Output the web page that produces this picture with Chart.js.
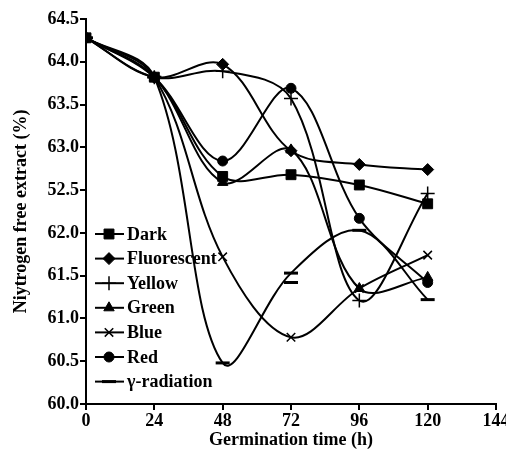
<!DOCTYPE html>
<html>
<head>
<meta charset="utf-8">
<script src="https://cdn.jsdelivr.net/npm/chart.js@4/dist/chart.umd.min.js"></script>
<style>
  html, body { margin: 0; padding: 0; background: #fff; }
</style>
</head>
<body>
<canvas id="nfeChart" width="506" height="459"></canvas>
<script>
// Germination time (h)
const hours = [0, 24, 48, 72, 96, 120];

// Nitrogen free extract (%) per treatment
const dark        = [64.28, 63.82, 62.66, 62.68, 62.56, 62.34];
const fluorescent = [64.28, 63.82, 63.97, 62.96, 62.80, 62.74];
const yellow      = [64.28, 63.82, 63.89, 63.57, 61.21, 62.46];
const green       = [64.28, 63.82, 62.59, 62.97, 61.35, 61.48];
const blue        = [64.28, 63.82, 61.72, 60.78, 61.35, 61.74];
const red         = [64.28, 63.82, 62.84, 63.69, 62.17, 61.42];
const gamma       = [64.28, 63.82, 60.48, 61.53, 62.03, 61.22];
// stray second γ marker printed at 72 h
const gammaExtraHours = [72];
const gammaExtra      = [61.42];

// y tick labels as printed (the 62.5 tick is printed as 52.5)
const yTickLabels = ['60.0', '60.5', '61.0', '61.5', '62.0', '52.5', '63.0', '63.5', '64.0', '64.5'];

const font = { family: 'Liberation Serif', size: 18, weight: 'bold' };

function series(label, xs, values, style, radius, bw) {
    return {
        label: label,
        data: xs.map((h, i) => ({ x: h, y: values[i] })),
        borderColor: '#000',
        backgroundColor: '#000',
        borderWidth: 2,
        tension: 0.35,
        pointStyle: style,
        pointRadius: radius,
        pointBorderWidth: bw,
        pointBackgroundColor: '#000',
        pointBorderColor: '#000'
    };
}

// Legend drawn inside the plot, top-left under the curves
const insideLegend = {
    id: 'insideLegend',
    afterDraw(chart) {
        const ctx = chart.ctx;
        const left = chart.chartArea.left + 9;
        ctx.save();
        ctx.font = 'bold 18px "Liberation Serif"';
        ctx.textBaseline = 'middle';
        chart.data.datasets.filter(ds => !ds.noLegend).forEach((ds, i) => {
            const y = 234 + i * 24.6;
            ctx.strokeStyle = '#000';
            ctx.fillStyle = '#000';
            ctx.lineWidth = 2;
            ctx.beginPath();
            ctx.moveTo(left, y);
            ctx.lineTo(left + 29, y);
            ctx.stroke();
            ctx.lineWidth = ds.pointBorderWidth;
            Chart.helpers.drawPoint(ctx, {
                pointStyle: ds.pointStyle,
                radius: ds.pointRadius,
                borderWidth: ds.pointBorderWidth,
                rotation: 0
            }, left + 14, y);
            ctx.fillStyle = '#000';
            ctx.fillText(ds.label, left + 32, y + 1);
        });
        ctx.restore();
    }
};

const extra = series('γ-radiation', gammaExtraHours, gammaExtra, 'line', 7, 3);
extra.showLine = false;
extra.noLegend = true;

new Chart(document.getElementById('nfeChart').getContext('2d'), {
    type: 'line',
    data: {
        datasets: [
            series('Dark', hours, dark, 'rect', 7, 1),
            series('Fluorescent', hours, fluorescent, 'rectRot', 6, 1),
            series('Yellow', hours, yellow, 'cross', 7, 1.5),
            series('Green', hours, green, 'triangle', 6, 1),
            series('Blue', hours, blue, 'crossRot', 6, 1.5),
            series('Red', hours, red, 'circle', 5, 1),
            series('γ-radiation', hours, gamma, 'line', 7, 3),
            extra
        ]
    },
    options: {
        responsive: false,
        animation: false,
        devicePixelRatio: 1,
        layout: { padding: { top: 19, right: 9, left: 0, bottom: 0 } },
        plugins: {
            legend: { display: false },
            tooltip: { enabled: false }
        },
        scales: {
            x: {
                type: 'linear',
                min: 0,
                max: 144,
                ticks: { stepSize: 24, color: '#000', font: font, padding: 1 },
                grid: { drawOnChartArea: false, drawTicks: true, tickLength: 6, color: '#000', lineWidth: 2 },
                border: { color: '#000', width: 2 },
                title: { display: true, text: 'Germination time (h)', color: '#000', font: font, padding: { top: 0, bottom: 8 } },
                afterFit(scale) {
                    scale.height = 55;
                    scale.paddingLeft = 0;
                    scale.paddingRight = 0;
                }
            },
            y: {
                min: 60,
                max: 64.5,
                ticks: {
                    stepSize: 0.5,
                    color: '#000',
                    font: font,
                    padding: 1,
                    callback: (v) => yTickLabels[Math.round((v - 60) / 0.5)]
                },
                grid: { drawOnChartArea: false, drawTicks: true, tickLength: 6, color: '#000', lineWidth: 2 },
                border: { color: '#000', width: 2 },
                title: { display: true, text: 'Niytrogen free extract (%)', color: '#000', font: font, padding: { top: 11, bottom: 0 } },
                afterFit(scale) {
                    scale.width = 86;
                    scale.paddingTop = 0;
                    scale.paddingBottom = 0;
                }
            }
        }
    },
    plugins: [insideLegend]
});
</script>
</body>
</html>
